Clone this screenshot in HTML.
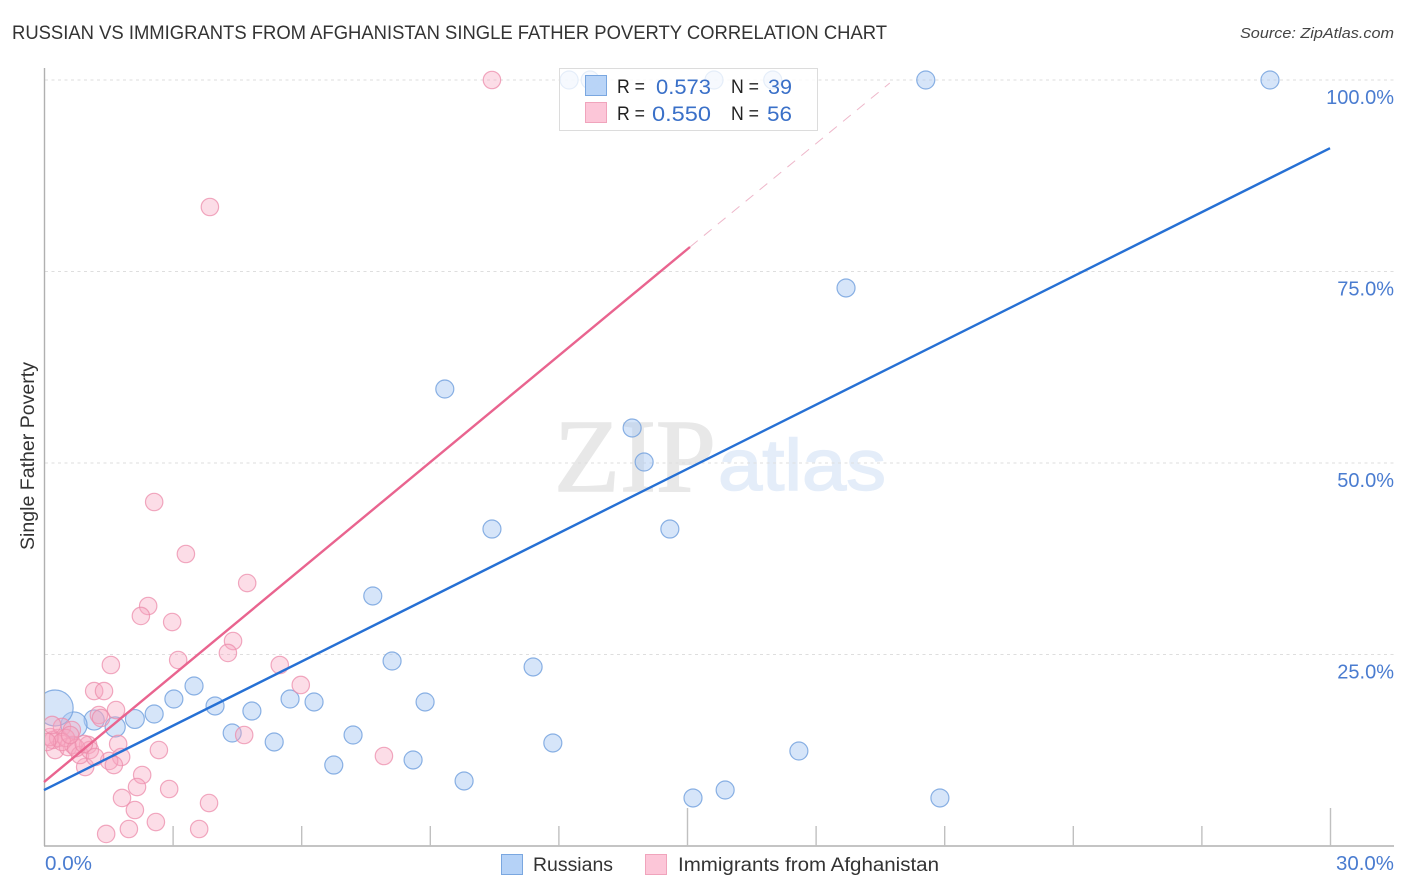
<!DOCTYPE html>
<html lang="en">
<head>
<meta charset="utf-8">
<title>Russian vs Immigrants from Afghanistan Single Father Poverty Correlation Chart</title>
<style>
html,body{margin:0;padding:0;background:#fff;width:1406px;height:892px;overflow:hidden}
svg{display:block}
text{font-family:"Liberation Sans",sans-serif}
</style>
</head>
<body>
<svg id="chart" width="1406" height="892" viewBox="0 0 1406 892" xmlns="http://www.w3.org/2000/svg">
  <defs><clipPath id="plot-clip"><rect x="45" y="60" width="1349" height="786"/></clipPath></defs>
  <text x="12" y="39" font-size="19" fill="#333" textLength="875" lengthAdjust="spacingAndGlyphs">RUSSIAN VS IMMIGRANTS FROM AFGHANISTAN SINGLE FATHER POVERTY CORRELATION CHART</text>
  <text x="1394" y="38" font-size="15" font-style="italic" fill="#444" text-anchor="end" textLength="154" lengthAdjust="spacingAndGlyphs">Source: ZipAtlas.com</text>
  <g>
    <text x="554" y="491" font-size="104" fill="#e8e8e8" stroke="#e8e8e8" stroke-width="1.5" textLength="162" lengthAdjust="spacingAndGlyphs" style="font-family:'Liberation Serif',serif">ZIP</text>
    <text x="718" y="490" font-size="72" fill="#e4edf9" stroke="#e4edf9" stroke-width="1.5" textLength="168" lengthAdjust="spacingAndGlyphs">atlas</text>
  </g>
  <g id="grid"></g>
  <g id="axes"></g>
  <g id="russian-points" clip-path="url(#plot-clip)"></g>
  <g id="afghan-points" clip-path="url(#plot-clip)"></g>
  <g id="trends"></g>
  <text transform="translate(34,456) rotate(-90)" font-size="19" fill="#333" text-anchor="middle" textLength="188" lengthAdjust="spacingAndGlyphs">Single Father Poverty</text>
  <g>
    <rect x="559.5" y="68.5" width="258" height="62" fill="#fff" fill-opacity="0.78" stroke="#dcdcdc" stroke-width="1"/>
    <rect x="585.5" y="75.5" width="21" height="20" fill="#b5d2f7" fill-opacity="0.95" stroke="#7aa7e0"/>
    <rect x="585.5" y="102.5" width="21" height="20" fill="#fcc6d8" stroke="#f0a4bc"/>
    <text x="617" y="93" font-size="19" fill="#222" textLength="28" lengthAdjust="spacingAndGlyphs">R =</text>
    <text x="656" y="94" font-size="21" fill="#3a70c8" textLength="55" lengthAdjust="spacingAndGlyphs">0.573</text>
    <text x="731" y="93" font-size="19" fill="#222" textLength="28" lengthAdjust="spacingAndGlyphs">N =</text>
    <text x="768" y="94" font-size="21" fill="#3a70c8" textLength="24" lengthAdjust="spacingAndGlyphs">39</text>
    <text x="617" y="120" font-size="19" fill="#222" textLength="28" lengthAdjust="spacingAndGlyphs">R =</text>
    <text x="652" y="121" font-size="21" fill="#3a70c8" textLength="59" lengthAdjust="spacingAndGlyphs">0.550</text>
    <text x="731" y="120" font-size="19" fill="#222" textLength="28" lengthAdjust="spacingAndGlyphs">N =</text>
    <text x="767" y="121" font-size="21" fill="#3a70c8" textLength="25" lengthAdjust="spacingAndGlyphs">56</text>
  </g>
  <g>
    <rect x="501.5" y="854.5" width="21" height="20" fill="#b5d2f7" stroke="#7aa7e0"/>
    <text x="533" y="871" font-size="19" fill="#333" textLength="80" lengthAdjust="spacingAndGlyphs">Russians</text>
    <rect x="645.5" y="854.5" width="21" height="20" fill="#fcc6d8" stroke="#f0a4bc"/>
    <text x="678" y="871" font-size="19" fill="#333" textLength="261" lengthAdjust="spacingAndGlyphs">Immigrants from Afghanistan</text>
  </g>
</svg>
<script>
const russianX = [12.25,12.74,15.63,17.0,20.57,28.6,18.71,9.35,13.72,14.0,10.45,14.6,7.67,8.12,11.41,3.5,3.03,5.74,6.3,8.89,3.99,4.85,2.57,2.12,1.17,0.7,1.66,0.26,4.39,7.21,5.37,11.87,17.61,6.76,8.61,9.8,15.89,15.14,20.9];
const russianY = [100,100,100,100,100,100,72.85,59.66,54.57,50.13,41.38,41.38,32.64,24.15,23.37,20.89,19.19,19.19,18.8,18.8,18.28,17.62,17.23,16.58,16.45,15.8,15.54,18.02,14.75,14.49,13.58,13.45,12.4,10.57,11.23,8.49,7.31,6.27,6.27];
const russianWeight = [1,1,1,1,1,1,1,1,1,1,1,1,1,1,1,1,1,1,1,1,1,1,1,1.1,1.25,2.1,1.25,4,1,1,1,1,1,1,1,1,1,1,1];

const afghanX = [10.45,3.87,2.57,3.31,4.74,2.43,2.26,2.99,4.41,4.29,3.13,1.56,5.5,5.99,1.17,1.4,1.68,1.28,1.33,4.67,2.68,1.73,1.8,1.52,1.63,0.96,2.29,2.17,2.92,1.82,3.85,2.12,2.61,1.98,3.62,1.45,7.93,0.26,0.21,0.33,0.14,0.42,0.65,0.56,0.68,0.84,1.03,1.07,1.19,0.51,0.42,0.75,0.93,0.19,0.61,0.07];
const afghanY = [100,83.42,44.91,38.12,34.33,31.33,30.03,29.24,26.76,25.2,24.28,23.63,23.63,21.02,20.23,20.23,17.75,17.1,16.71,14.49,12.53,13.32,11.62,11.1,10.57,10.31,9.27,7.7,7.44,6.27,5.61,4.7,3.13,2.22,2.22,1.57,11.75,12.53,13.84,14.1,14.23,15.54,15.14,12.92,13.19,11.88,13.19,12.53,11.62,14.1,13.58,12.79,13.32,15.8,14.49,13.58];

const russianTrendX = [0,30];
const russianTrendY = [7.3,91.1];
const afghanTrendX = [0,15.07];
const afghanTrendY = [8.35,78.2];
const afghanExtensionX = [15.07,19.73];
const afghanExtensionY = [78.2,99.6];

const yTicks = [25,50,75,100];
const yTickLabels = ['25.0%','50.0%','75.0%','100.0%'];
const xMinorTicks = [3,6,9,12,18,21,24,27];
const xMajorTicks = [15,30];
const xEndLabels = ['0.0%','30.0%'];

function xScale(v){return 44 + v * 1286 / 30;}
function yScale(v){return 846 - v * 7.66;}
function radius(w){return 9 * Math.sqrt(w);}

const NS = 'http://www.w3.org/2000/svg';
function make(tag, attrs, parent){
  const el = document.createElementNS(NS, tag);
  for (const k in attrs) el.setAttribute(k, attrs[k]);
  parent.appendChild(el);
  return el;
}

const grid = document.getElementById('grid');
yTicks.forEach(function(t){
  const el = make('line',{x1:45,x2:1394,y1:yScale(t),y2:yScale(t),stroke:'#dedede','stroke-width':1,'stroke-dasharray':'3 3.5'},grid);
  
  
});

const axes = document.getElementById('axes');
const yAxis = make('line',{x1:44.5,x2:44.5,y1:68,y2:846,stroke:'#b0b0b0','stroke-width':1.4},axes);


const xAxis = make('line',{x1:44,x2:1394,y1:846,y2:846,stroke:'#b0b0b0','stroke-width':1.4},axes);


xMinorTicks.forEach(function(t){
  const el = make('line',{x1:xScale(t)+0.5,x2:xScale(t)+0.5,y1:826,y2:846,stroke:'#c0c0c0','stroke-width':1.4},axes);
  
  
});
xMajorTicks.forEach(function(t){
  const el = make('line',{x1:xScale(t)+0.5,x2:xScale(t)+0.5,y1:808,y2:846,stroke:'#c0c0c0','stroke-width':1.4},axes);
  
  
});
yTicks.forEach(function(t,i){
  const el = make('text',{x:1394,y:yScale(t)+24,'font-size':20,fill:'#4a7cd0','text-anchor':'end'},axes);
  el.textContent = yTickLabels[i];
  
  
});
const x0Label = make('text',{x:45,y:870,'font-size':20,fill:'#4a7cd0',textLength:47,lengthAdjust:'spacingAndGlyphs'},axes);
x0Label.textContent = xEndLabels[0];


const x1Label = make('text',{x:1336,y:870,'font-size':20,fill:'#4a7cd0',textLength:58,lengthAdjust:'spacingAndGlyphs'},axes);
x1Label.textContent = xEndLabels[1];



const rGroup = document.getElementById('russian-points');
russianX.forEach(function(x,i){
  const el = make('circle',{cx:xScale(x),cy:yScale(russianY[i]),r:radius(russianWeight[i]),fill:'#a9c9f3','fill-opacity':0.48,stroke:'#6f9fdd','stroke-opacity':0.8,'stroke-width':1.2},rGroup);
  
  
});
const aGroup = document.getElementById('afghan-points');
afghanX.forEach(function(x,i){
  const el = make('circle',{cx:xScale(x),cy:yScale(afghanY[i]),r:8.7,fill:'#f7a6c0','fill-opacity':0.38,stroke:'#ec8cab','stroke-opacity':0.75,'stroke-width':1.2},aGroup);
  
  
});

const trends = document.getElementById('trends');
const ext = make('line',{x1:xScale(afghanExtensionX[0]),y1:yScale(afghanExtensionY[0]),x2:xScale(afghanExtensionX[1]),y2:yScale(afghanExtensionY[1]),stroke:'#eeb7ca','stroke-width':1,'stroke-dasharray':'10 8'},trends);


const pinkLine = make('line',{x1:xScale(afghanTrendX[0]),y1:yScale(afghanTrendY[0]),x2:xScale(afghanTrendX[1]),y2:yScale(afghanTrendY[1]),stroke:'#e9648f','stroke-width':2.4},trends);


const blueLine = make('line',{x1:xScale(russianTrendX[0]),y1:yScale(russianTrendY[0]),x2:xScale(russianTrendX[1]),y2:yScale(russianTrendY[1]),stroke:'#2670d4','stroke-width':2.4},trends);


</script>
</body>
</html>
